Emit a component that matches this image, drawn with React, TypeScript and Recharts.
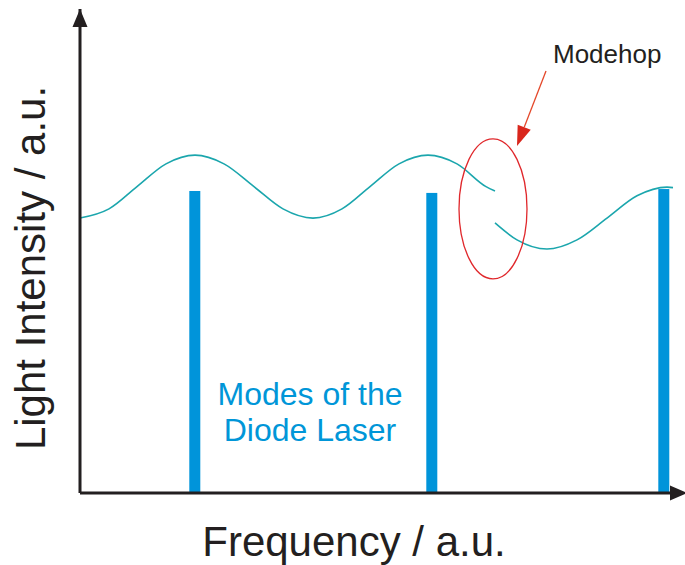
import { ComposedChart, Line, Bar, XAxis, YAxis, ReferenceDot, Label } from 'recharts';

// frequency positions / intensity levels (arbitrary units)
const curveFreq1 = [0, 29, 57, 86, 115, 144, 174, 203, 233, 262, 290, 319, 348, 377, 406, 415];
const curveLevel1 = [56.8, 58.7, 63.3, 68.0, 69.8, 68.0, 63.3, 58.7, 56.8, 58.7, 63.3, 68.0, 69.8, 68.0, 63.3, 62.4];

// after the mode hop the curve starts again lower
const curveFreq2 = [415, 437, 467, 497, 527, 557, 587, 593];
const curveLevel2 = [55.8, 52.3, 50.4, 52.3, 56.8, 61.4, 63.2, 63.1];

// laser modes
const modeFreq = [115, 352, 584];
const modeLevel = [62.4, 62.0, 62.8];

const modehopFreq = 413;
const modehopLevel = 58.7;
const noteFreq = 230;
const noteLevel = 18.2;

const font = '"Liberation Sans", Arial, sans-serif';
const ink = '#231f20';

const freqs = Array.from(new Set([...curveFreq1, ...curveFreq2, ...modeFreq])).sort((a, b) => a - b);
const rows = freqs.map((f) => {
  const i1 = curveFreq1.indexOf(f);
  const i2 = curveFreq2.indexOf(f);
  const im = modeFreq.indexOf(f);
  return {
    f,
    seg1: i1 >= 0 ? curveLevel1[i1] : null,
    seg2: i2 >= 0 ? curveLevel2[i2] : null,
    mode: im >= 0 ? modeLevel[im] : null,
  };
});

const ModeBar = ({ x, y, width, height, fill }: any) => {
  if (!height) return null;
  return <rect x={x + width / 2 - 5.5} y={y} width={11} height={height} fill={fill} />;
};

const UpArrow = ({ cx, cy }: any) => (
  <polygon points={`${cx},${cy} ${cx - 7.5},${cy + 18} ${cx + 7.5},${cy + 18}`} fill={ink} />
);

const RightArrow = ({ cx, cy }: any) => (
  <polygon points={`${cx + 7},${cy} ${cx - 10},${cy - 7.5} ${cx - 10},${cy + 7.5}`} fill={ink} />
);

const Modehop = ({ cx, cy }: any) => {
  const tip = { x: cx + 24, y: cy - 63 };
  const tail = { x: cx + 53, y: cy - 138 };
  const dx = tail.x - tip.x;
  const dy = tail.y - tip.y;
  const len = Math.hypot(dx, dy);
  const ux = dx / len;
  const uy = dy / len;
  const bx = tip.x + ux * 20;
  const by = tip.y + uy * 20;
  const px = -uy * 7;
  const py = ux * 7;
  return (
    <g>
      <ellipse cx={cx} cy={cy} rx={34} ry={70} fill="none" stroke="#e0282c" strokeWidth={1.3} />
      <line x1={tail.x} y1={tail.y} x2={bx} y2={by} stroke="#e4482a" strokeWidth={1.3} />
      <polygon points={`${tip.x},${tip.y} ${bx + px},${by + py} ${bx - px},${by - py}`} fill="#d9261c" />
      <text x={cx + 60} y={cy - 146} fontFamily={font} fontSize={26} fill={ink}>
        Modehop
      </text>
    </g>
  );
};

const Note = ({ cx, cy }: any) => (
  <text x={cx} y={cy} textAnchor="middle" fontFamily={font} fontSize={32} fill="#0096d8">
    <tspan x={cx}>Modes of the</tspan>
    <tspan x={cx} dy={36}>Diode Laser</tspan>
  </text>
);

export default function App() {
  return (
    <div style={{ position: 'absolute', left: 0, top: 0, background: '#fff' }}>
      <ComposedChart width={685} height={565} data={rows} margin={{ top: 9, right: 5, left: 0, bottom: 0 }}>
        <XAxis
          dataKey="f"
          type="number"
          domain={[0, 600]}
          height={72}
          tick={false}
          tickLine={false}
          axisLine={{ stroke: ink, strokeWidth: 3 }}
        >
          <Label
            content={({ viewBox }: any) => (
              <text
                x={viewBox.x + viewBox.width / 2 - 26}
                y={viewBox.y + 63}
                textAnchor="middle"
                fontFamily={font}
                fontSize={42}
                fill={ink}
              >
                Frequency / a.u.
              </text>
            )}
          />
        </XAxis>
        <YAxis
          type="number"
          domain={[0, 100]}
          width={80}
          tick={false}
          tickLine={false}
          axisLine={{ stroke: ink, strokeWidth: 3 }}
        >
          <Label
            content={({ viewBox }: any) => {
              const x = viewBox.x + 45;
              const y = viewBox.y + 259;
              return (
                <text
                  x={x}
                  y={y}
                  transform={`rotate(-90, ${x}, ${y})`}
                  textAnchor="middle"
                  fontFamily={font}
                  fontSize={42}
                  fill={ink}
                >
                  Light Intensity / a.u.
                </text>
              );
            }}
          />
        </YAxis>
        <Bar dataKey="mode" fill="#0094da" shape={ModeBar} isAnimationActive={false} />
        <Line
          dataKey="seg1"
          type="monotone"
          stroke="#1ba6ad"
          strokeWidth={1.6}
          dot={false}
          activeDot={false}
          connectNulls
          isAnimationActive={false}
        />
        <Line
          dataKey="seg2"
          type="monotone"
          stroke="#1ba6ad"
          strokeWidth={1.6}
          dot={false}
          activeDot={false}
          connectNulls
          isAnimationActive={false}
        />
        <ReferenceDot x={0} y={100} r={0} shape={UpArrow} />
        <ReferenceDot x={600} y={0} r={0} shape={RightArrow} />
        <ReferenceDot x={modehopFreq} y={modehopLevel} r={0} shape={Modehop} />
        <ReferenceDot x={noteFreq} y={noteLevel} r={0} shape={Note} />
      </ComposedChart>
    </div>
  );
}
